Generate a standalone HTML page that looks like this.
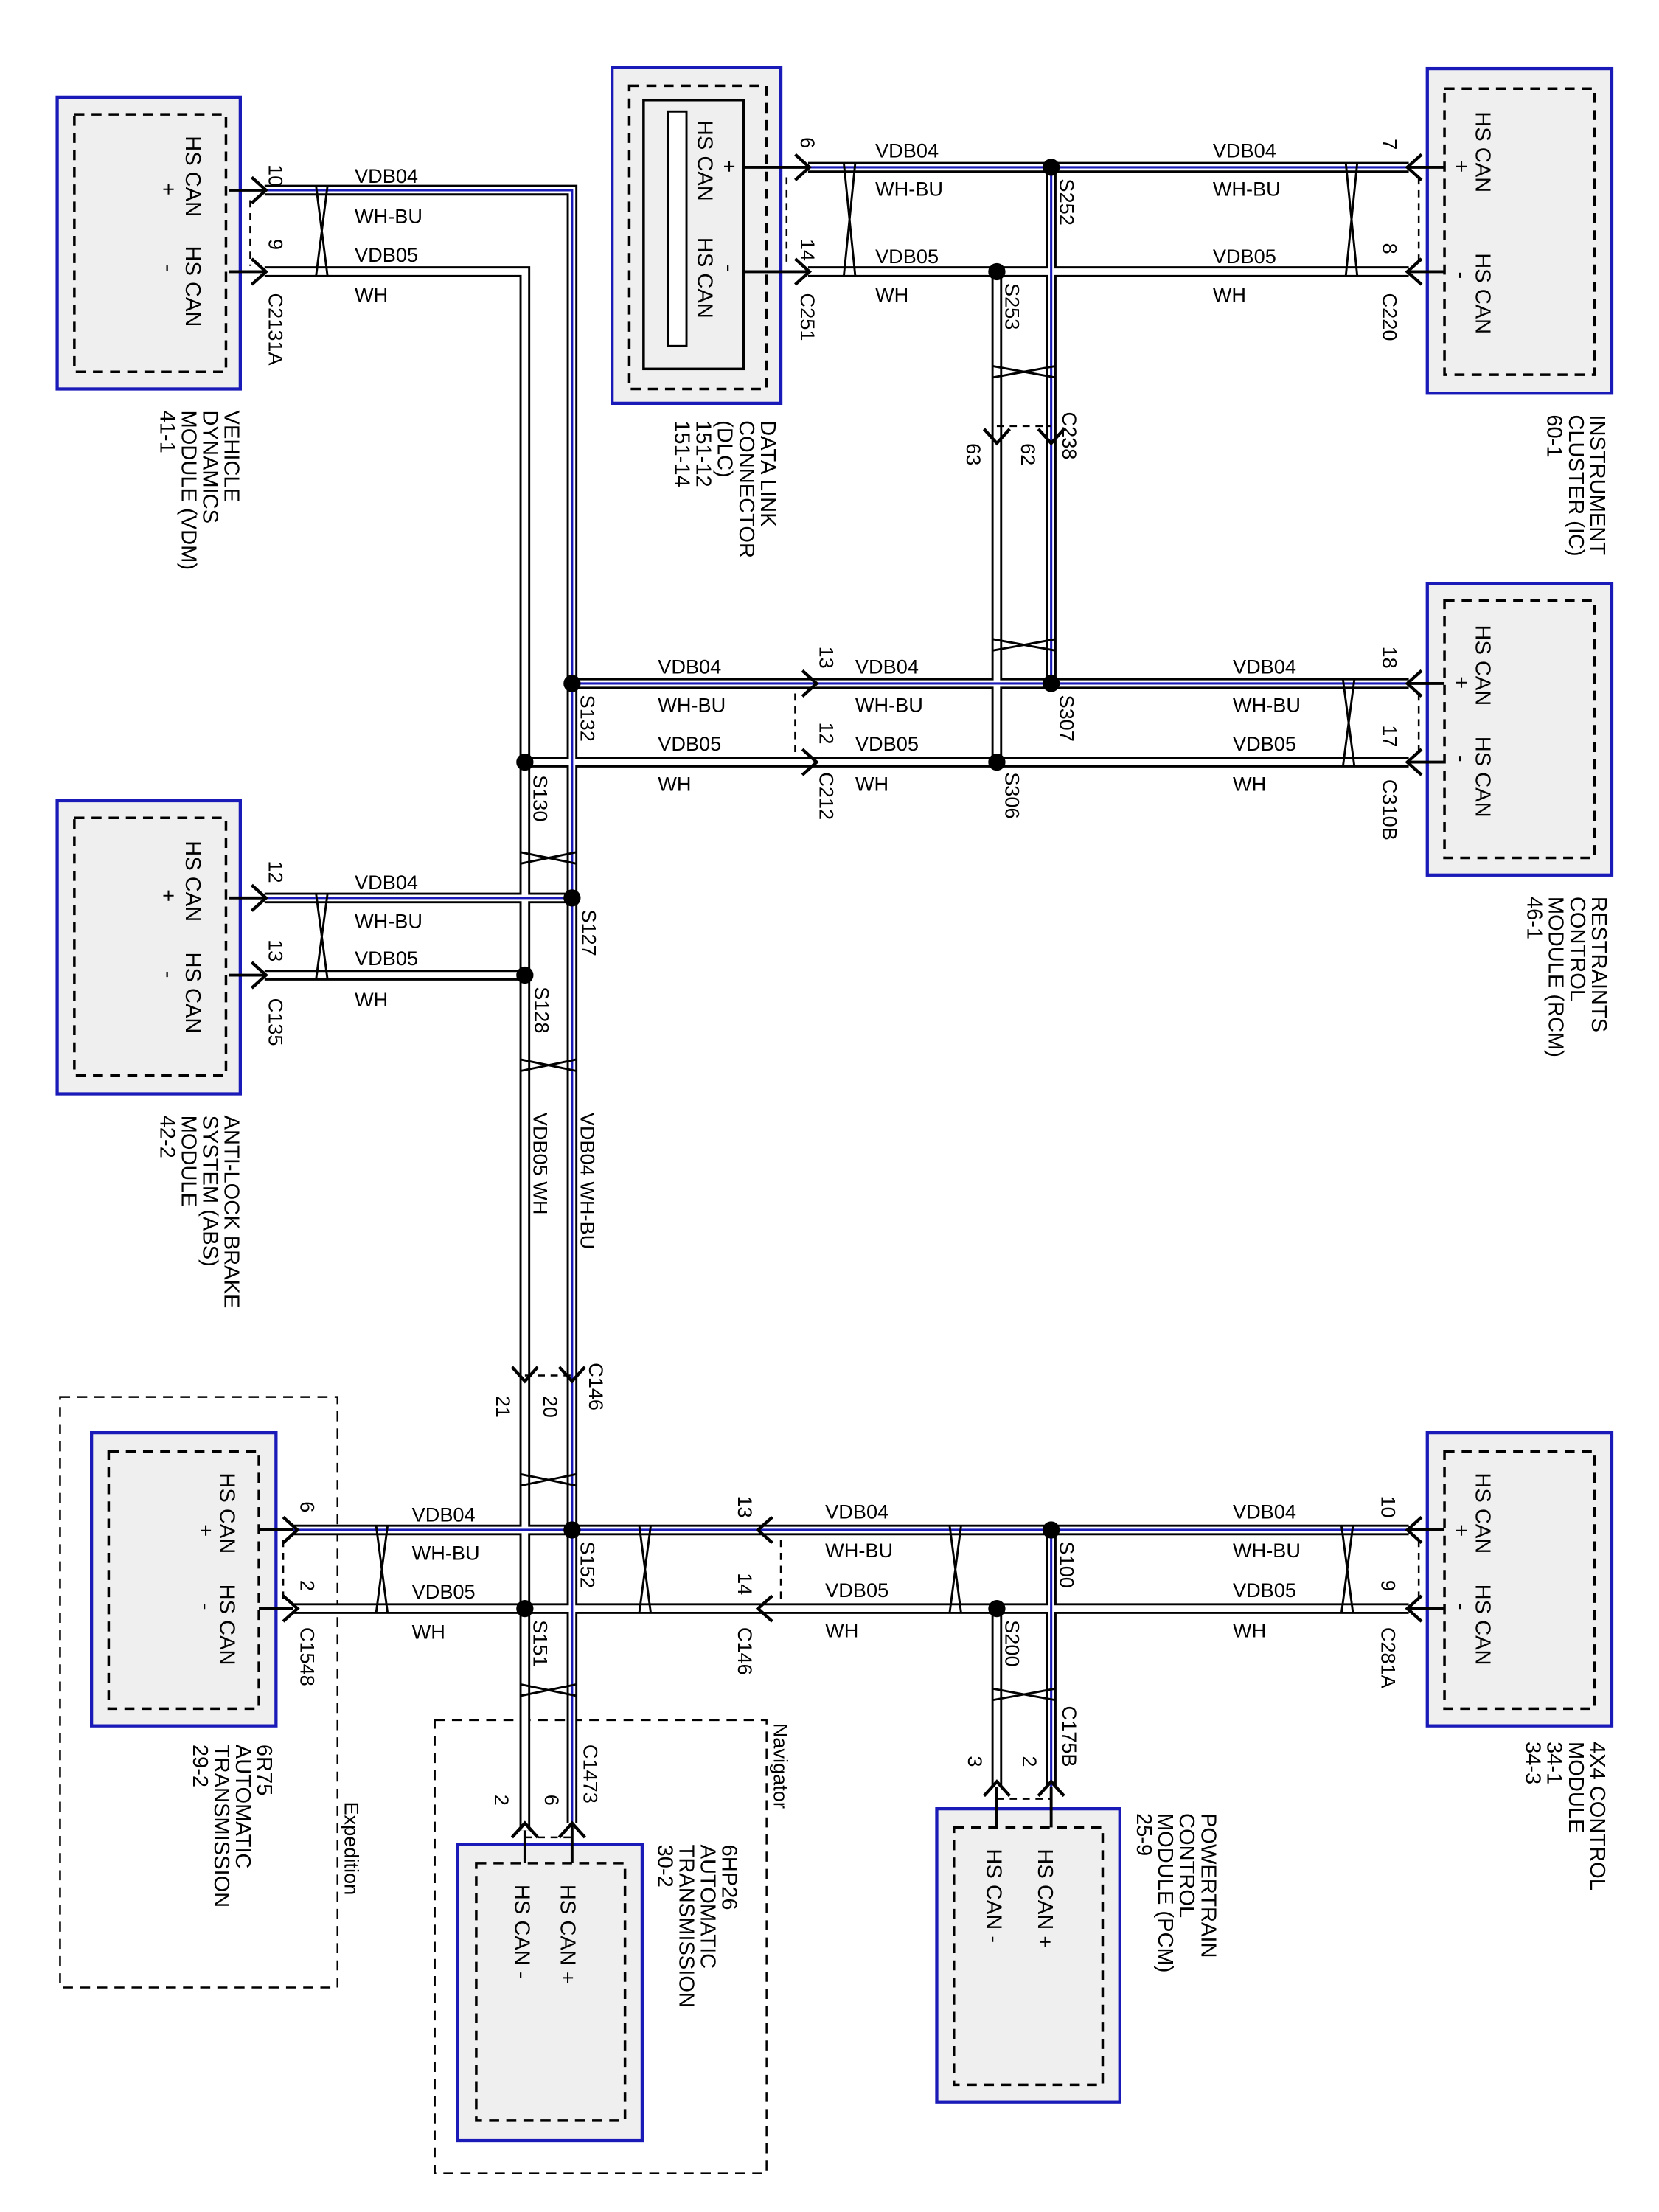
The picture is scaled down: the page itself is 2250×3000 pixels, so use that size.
<!DOCTYPE html>
<html><head><meta charset="utf-8"><style>
html,body{margin:0;padding:0;background:#fff}
svg{display:block}
text{font-family:"Liberation Sans",Arial,sans-serif;fill:#000}
.w{font-size:14px}
.p{font-size:14px}
.m{font-size:15px}
</style></head><body>
<svg width="2250" height="3000" viewBox="0 0 1160 1547" preserveAspectRatio="none" xmlns="http://www.w3.org/2000/svg">
<g fill="#efefef" stroke="#1a1ab8" stroke-width="2.2">
<rect x="40" y="68" width="128" height="204"/>
<rect x="428" y="47" width="118" height="235"/>
<rect x="998" y="48" width="129" height="227"/>
<rect x="998" y="408" width="129" height="204"/>
<rect x="40" y="560" width="128" height="205"/>
<rect x="998" y="1002" width="129" height="205"/>
<rect x="64" y="1002" width="129" height="205"/>
<rect x="320" y="1290" width="129" height="207"/>
<rect x="655" y="1265" width="128" height="205"/>
</g>
<g fill="none" stroke="#000" stroke-width="1.8" stroke-dasharray="7,5">
<rect x="52" y="80" width="106" height="180"/>
<rect x="440" y="60" width="96" height="212"/>
<rect x="1010" y="62" width="105" height="200"/>
<rect x="1010" y="420" width="105" height="180"/>
<rect x="52" y="572" width="106" height="180"/>
<rect x="1010" y="1015" width="105" height="180"/>
<rect x="76" y="1015" width="105" height="180"/>
<rect x="333" y="1303" width="104" height="180"/>
<rect x="667" y="1278" width="104" height="180"/>
<rect x="42" y="977" width="194" height="413" stroke-width="1.3"/>
<rect x="304" y="1203" width="232" height="317" stroke-width="1.3"/>
</g>
<rect x="450" y="70" width="70" height="188" fill="none" stroke="#000" stroke-width="1.8"/>
<rect x="467" y="78" width="13" height="164" fill="#fff" stroke="#000" stroke-width="1.5"/>
<!-- pin stubs -->
<g stroke="#000" stroke-width="2" fill="none">
<path d="M160,133H185M160,190H185M160,628H185M160,682H185"/>
<path d="M520,117H565M520,190H565"/>
<path d="M1010,117H985M1010,190H985M1010,478H985M1010,533H985M1010,1070H985M1010,1125H985"/>
<path d="M181,1070H205M181,1125H205"/>
<path d="M735,1278V1250M697,1278V1250M400,1303V1275M367,1303V1280"/>
</g>
<!-- wires -->
<g fill="none" stroke-linejoin="miter">
<g stroke="#000" stroke-width="7.5">
<path id="v4" d="M185,133H400V1275M565,117H985M735,117V478M400,478H985M185,628H400M205,1070H985M735,1070V1250"/>
<path d="M185,190H367V1280M565,190H985M697,190V533M367,533H985M185,682H367M205,1125H985M697,1125V1250"/>
</g>
<g stroke="#fff" stroke-width="4.5">
<path d="M185,133H400V1275M565,117H985M735,117V478M400,478H985M185,628H400M205,1070H985M735,1070V1250"/>
<path d="M185,190H367V1280M565,190H985M697,190V533M367,533H985M185,682H367M205,1125H985M697,1125V1250"/>
</g>
<path stroke="#1a1ab8" stroke-width="1.6" d="M185,133H400V1275M565,117H985M735,117V478M400,478H985M185,628H400M205,1070H985M735,1070V1250"/>
</g>
<!-- splices -->
<g fill="#000">
<circle cx="735" cy="117" r="6"/><circle cx="697" cy="190" r="6"/>
<circle cx="400" cy="478" r="6"/><circle cx="367" cy="533" r="6"/>
<circle cx="735" cy="478" r="6"/><circle cx="697" cy="533" r="6"/>
<circle cx="400" cy="628" r="6"/><circle cx="367" cy="682" r="6"/>
<circle cx="400" cy="1070" r="6"/><circle cx="367" cy="1125" r="6"/>
<circle cx="735" cy="1070" r="6"/><circle cx="697" cy="1125" r="6"/>
</g>
<!-- arrows -->
<g fill="none" stroke="#000" stroke-width="2.2">
<path d="M176,124L186,133L176,142M176,181L186,190L176,199M176,619L186,628L176,637M176,673L186,682L176,691"/>
<path d="M556,108L566,117L556,126M556,181L566,190L556,199"/>
<path d="M561,469L571,478L561,487M561,524L571,533L561,542"/>
<path d="M994,108L984,117L994,126M994,181L984,190L994,199M994,469L984,478L994,487M994,524L984,533L994,542"/>
<path d="M994,1061L984,1070L994,1079M994,1116L984,1125L994,1134"/>
<path d="M540,1061L530,1070L540,1079M540,1116L530,1125L540,1134"/>
<path d="M198,1061L208,1070L198,1079M198,1116L208,1125L198,1134"/>
<path d="M391,956L400,966L409,956M358,956L367,966L376,956"/>
<path d="M726,300L735,310L744,300M688,300L697,310L706,300"/>
<path d="M726,1256L735,1246L744,1256M688,1256L697,1246L706,1256"/>
<path d="M391,1285L400,1275L409,1285M358,1285L367,1275L376,1285"/>
</g>
<!-- connector dashes -->
<g fill="none" stroke="#000" stroke-width="1.3" stroke-dasharray="5,4">
<path d="M175,140V186M550,124V186M556,485V528M992,124V186M992,485V528M992,1077V1120M546,1077V1120M198,1077V1120"/>
<path d="M697,298H735M367,962H400M697,1258H735M367,1285H400"/>
</g>
<!-- twists -->
<g fill="none" stroke="#000" stroke-width="1.5">
<path d="M221,130L229,193M229,130L221,193M590,114L598,193M598,114L590,193M941,114L949,193M949,114L941,193M939,475L947,536M947,475L939,536M221,625L229,685M229,625L221,685M263,1067L271,1128M271,1067L263,1128M447,1067L455,1128M455,1067L447,1128M664,1067L672,1128M672,1067L664,1128M938,1067L946,1128M946,1067L938,1128"/>
<path d="M694,256L738,264M694,264L738,256M694,447L738,455M694,455L738,447M364,596L403,604M364,604L403,596M364,741L403,749M364,749L403,741M364,1031L403,1039M364,1039L403,1031M364,1178L403,1186M364,1186L403,1178M694,1181L738,1189M694,1189L738,1181"/>
</g>
<!-- wire labels -->
<g class="w">
<text x="248" y="128">VDB04</text><text x="248" y="156">WH-BU</text><text x="248" y="183">VDB05</text><text x="248" y="211">WH</text>
<text x="612" y="110">VDB04</text><text x="612" y="137">WH-BU</text><text x="612" y="184">VDB05</text><text x="612" y="211">WH</text>
<text x="848" y="110">VDB04</text><text x="848" y="137">WH-BU</text><text x="848" y="184">VDB05</text><text x="848" y="211">WH</text>
<text x="460" y="471">VDB04</text><text x="460" y="498">WH-BU</text><text x="460" y="525">VDB05</text><text x="460" y="553">WH</text>
<text x="598" y="471">VDB04</text><text x="598" y="498">WH-BU</text><text x="598" y="525">VDB05</text><text x="598" y="553">WH</text>
<text x="862" y="471">VDB04</text><text x="862" y="498">WH-BU</text><text x="862" y="525">VDB05</text><text x="862" y="553">WH</text>
<text x="248" y="622">VDB04</text><text x="248" y="649">WH-BU</text><text x="248" y="675">VDB05</text><text x="248" y="704">WH</text>
<text x="288" y="1064">VDB04</text><text x="288" y="1091">WH-BU</text><text x="288" y="1118">VDB05</text><text x="288" y="1146">WH</text>
<text x="577" y="1062">VDB04</text><text x="577" y="1089">WH-BU</text><text x="577" y="1117">VDB05</text><text x="577" y="1145">WH</text>
<text x="862" y="1062">VDB04</text><text x="862" y="1089">WH-BU</text><text x="862" y="1117">VDB05</text><text x="862" y="1145">WH</text>
<text transform="translate(406,778) rotate(90)">VDB04  WH-BU</text>
<text transform="translate(373,778) rotate(90)">VDB05  WH</text>
</g>
<!-- pin numbers, connectors, splices (rotated) -->
<g class="p">
<text transform="translate(188,115) rotate(90)">10</text><text transform="translate(188,167) rotate(90)">9</text><text transform="translate(188,205) rotate(90)">C2131A</text>
<text transform="translate(560,96) rotate(90)">6</text><text transform="translate(560,167) rotate(90)">14</text><text transform="translate(560,205) rotate(90)">C251</text>
<text transform="translate(967,97) rotate(90)">7</text><text transform="translate(967,170) rotate(90)">8</text><text transform="translate(967,205) rotate(90)">C220</text>
<text transform="translate(741,125) rotate(90)">S252</text><text transform="translate(703,198) rotate(90)">S253</text>
<text transform="translate(743,288) rotate(90)">C238</text><text transform="translate(714,310) rotate(90)">62</text><text transform="translate(676,310) rotate(90)">63</text>
<text transform="translate(406,486) rotate(90)">S132</text><text transform="translate(373,542) rotate(90)">S130</text>
<text transform="translate(573,452) rotate(90)">13</text><text transform="translate(573,505) rotate(90)">12</text><text transform="translate(573,540) rotate(90)">C212</text>
<text transform="translate(741,486) rotate(90)">S307</text><text transform="translate(703,540) rotate(90)">S306</text>
<text transform="translate(967,452) rotate(90)">18</text><text transform="translate(967,507) rotate(90)">17</text><text transform="translate(967,545) rotate(90)">C310B</text>
<text transform="translate(188,602) rotate(90)">12</text><text transform="translate(188,657) rotate(90)">13</text><text transform="translate(188,698) rotate(90)">C135</text>
<text transform="translate(407,636) rotate(90)">S127</text><text transform="translate(374,690) rotate(90)">S128</text>
<text transform="translate(412,953) rotate(90)">C146</text><text transform="translate(380,976) rotate(90)">20</text><text transform="translate(347,976) rotate(90)">21</text>
<text transform="translate(210,1050) rotate(90)">6</text><text transform="translate(210,1105) rotate(90)">2</text><text transform="translate(210,1138) rotate(90)">C1548</text>
<text transform="translate(406,1078) rotate(90)">S152</text><text transform="translate(373,1133) rotate(90)">S151</text>
<text transform="translate(516,1046) rotate(90)">13</text><text transform="translate(516,1100) rotate(90)">14</text><text transform="translate(516,1138) rotate(90)">C146</text>
<text transform="translate(741,1078) rotate(90)">S100</text><text transform="translate(703,1133) rotate(90)">S200</text>
<text transform="translate(966,1046) rotate(90)">10</text><text transform="translate(966,1105) rotate(90)">9</text><text transform="translate(966,1138) rotate(90)">C281A</text>
<text transform="translate(743,1193) rotate(90)">C175B</text><text transform="translate(715,1228) rotate(90)">2</text><text transform="translate(677,1228) rotate(90)">3</text>
<text transform="translate(408,1220) rotate(90)">C1473</text><text transform="translate(381,1255) rotate(90)">6</text><text transform="translate(346,1255) rotate(90)">2</text>
</g>
<!-- module inner labels -->
<g class="m">
<text transform="translate(130,95) rotate(90)">HS CAN</text><text transform="translate(113,128) rotate(90)">+</text>
<text transform="translate(130,172) rotate(90)">HS CAN</text><text transform="translate(113,185) rotate(90)">-</text>
<text transform="translate(488,84) rotate(90)">HS CAN</text><text transform="translate(505,112) rotate(90)">+</text>
<text transform="translate(488,166) rotate(90)">HS CAN</text><text transform="translate(505,185) rotate(90)">-</text>
<text transform="translate(1032,78) rotate(90)">HS CAN</text><text transform="translate(1017,112) rotate(90)">+</text>
<text transform="translate(1032,177) rotate(90)">HS CAN</text><text transform="translate(1017,190) rotate(90)">-</text>
<text transform="translate(1032,437) rotate(90)">HS CAN</text><text transform="translate(1017,473) rotate(90)">+</text>
<text transform="translate(1032,515) rotate(90)">HS CAN</text><text transform="translate(1017,528) rotate(90)">-</text>
<text transform="translate(130,588) rotate(90)">HS CAN</text><text transform="translate(113,622) rotate(90)">+</text>
<text transform="translate(130,666) rotate(90)">HS CAN</text><text transform="translate(113,679) rotate(90)">-</text>
<text transform="translate(1032,1030) rotate(90)">HS CAN</text><text transform="translate(1017,1066) rotate(90)">+</text>
<text transform="translate(1032,1108) rotate(90)">HS CAN</text><text transform="translate(1017,1121) rotate(90)">-</text>
<text transform="translate(154,1030) rotate(90)">HS CAN</text><text transform="translate(139,1066) rotate(90)">+</text>
<text transform="translate(154,1108) rotate(90)">HS CAN</text><text transform="translate(139,1121) rotate(90)">-</text>
<text transform="translate(392,1318) rotate(90)">HS CAN +</text>
<text transform="translate(360,1318) rotate(90)">HS CAN -</text>
<text transform="translate(726,1293) rotate(90)">HS CAN +</text>
<text transform="translate(690,1293) rotate(90)">HS CAN -</text>
</g>
<!-- module names -->
<g class="m">
<text transform="translate(157,287) rotate(90)"><tspan x="0">VEHICLE</tspan><tspan x="0" dy="15">DYNAMICS</tspan><tspan x="0" dy="15">MODULE (VDM)</tspan><tspan x="0" dy="15">41-1</tspan></text>
<text transform="translate(532,294) rotate(90)"><tspan x="0">DATA LINK</tspan><tspan x="0" dy="15">CONNECTOR</tspan><tspan x="0" dy="15">(DLC)</tspan><tspan x="0" dy="15">151-12</tspan><tspan x="0" dy="15">151-14</tspan></text>
<text transform="translate(1112,290) rotate(90)"><tspan x="0">INSTRUMENT</tspan><tspan x="0" dy="15">CLUSTER (IC)</tspan><tspan x="0" dy="15">60-1</tspan></text>
<text transform="translate(1113,627) rotate(90)"><tspan x="0">RESTRAINTS</tspan><tspan x="0" dy="15">CONTROL</tspan><tspan x="0" dy="15">MODULE (RCM)</tspan><tspan x="0" dy="15">46-1</tspan></text>
<text transform="translate(157,780) rotate(90)"><tspan x="0">ANTI-LOCK BRAKE</tspan><tspan x="0" dy="15">SYSTEM (ABS)</tspan><tspan x="0" dy="15">MODULE</tspan><tspan x="0" dy="15">42-2</tspan></text>
<text transform="translate(1112,1218) rotate(90)"><tspan x="0">4X4 CONTROL</tspan><tspan x="0" dy="15">MODULE</tspan><tspan x="0" dy="15">34-1</tspan><tspan x="0" dy="15">34-3</tspan></text>
<text transform="translate(840,1268) rotate(90)"><tspan x="0">POWERTRAIN</tspan><tspan x="0" dy="15">CONTROL</tspan><tspan x="0" dy="15">MODULE (PCM)</tspan><tspan x="0" dy="15">25-9</tspan></text>
<text transform="translate(180,1220) rotate(90)"><tspan x="0">6R75</tspan><tspan x="0" dy="15">AUTOMATIC</tspan><tspan x="0" dy="15">TRANSMISSION</tspan><tspan x="0" dy="15">29-2</tspan></text>
<text transform="translate(505,1290) rotate(90)"><tspan x="0">6HP26</tspan><tspan x="0" dy="15">AUTOMATIC</tspan><tspan x="0" dy="15">TRANSMISSION</tspan><tspan x="0" dy="15">30-2</tspan></text>
<text transform="translate(241,1260) rotate(90)" font-size="14">Expedition</text>
<text transform="translate(541,1205) rotate(90)" font-size="14">Navigator</text>
</g>
</svg>
</body></html>
